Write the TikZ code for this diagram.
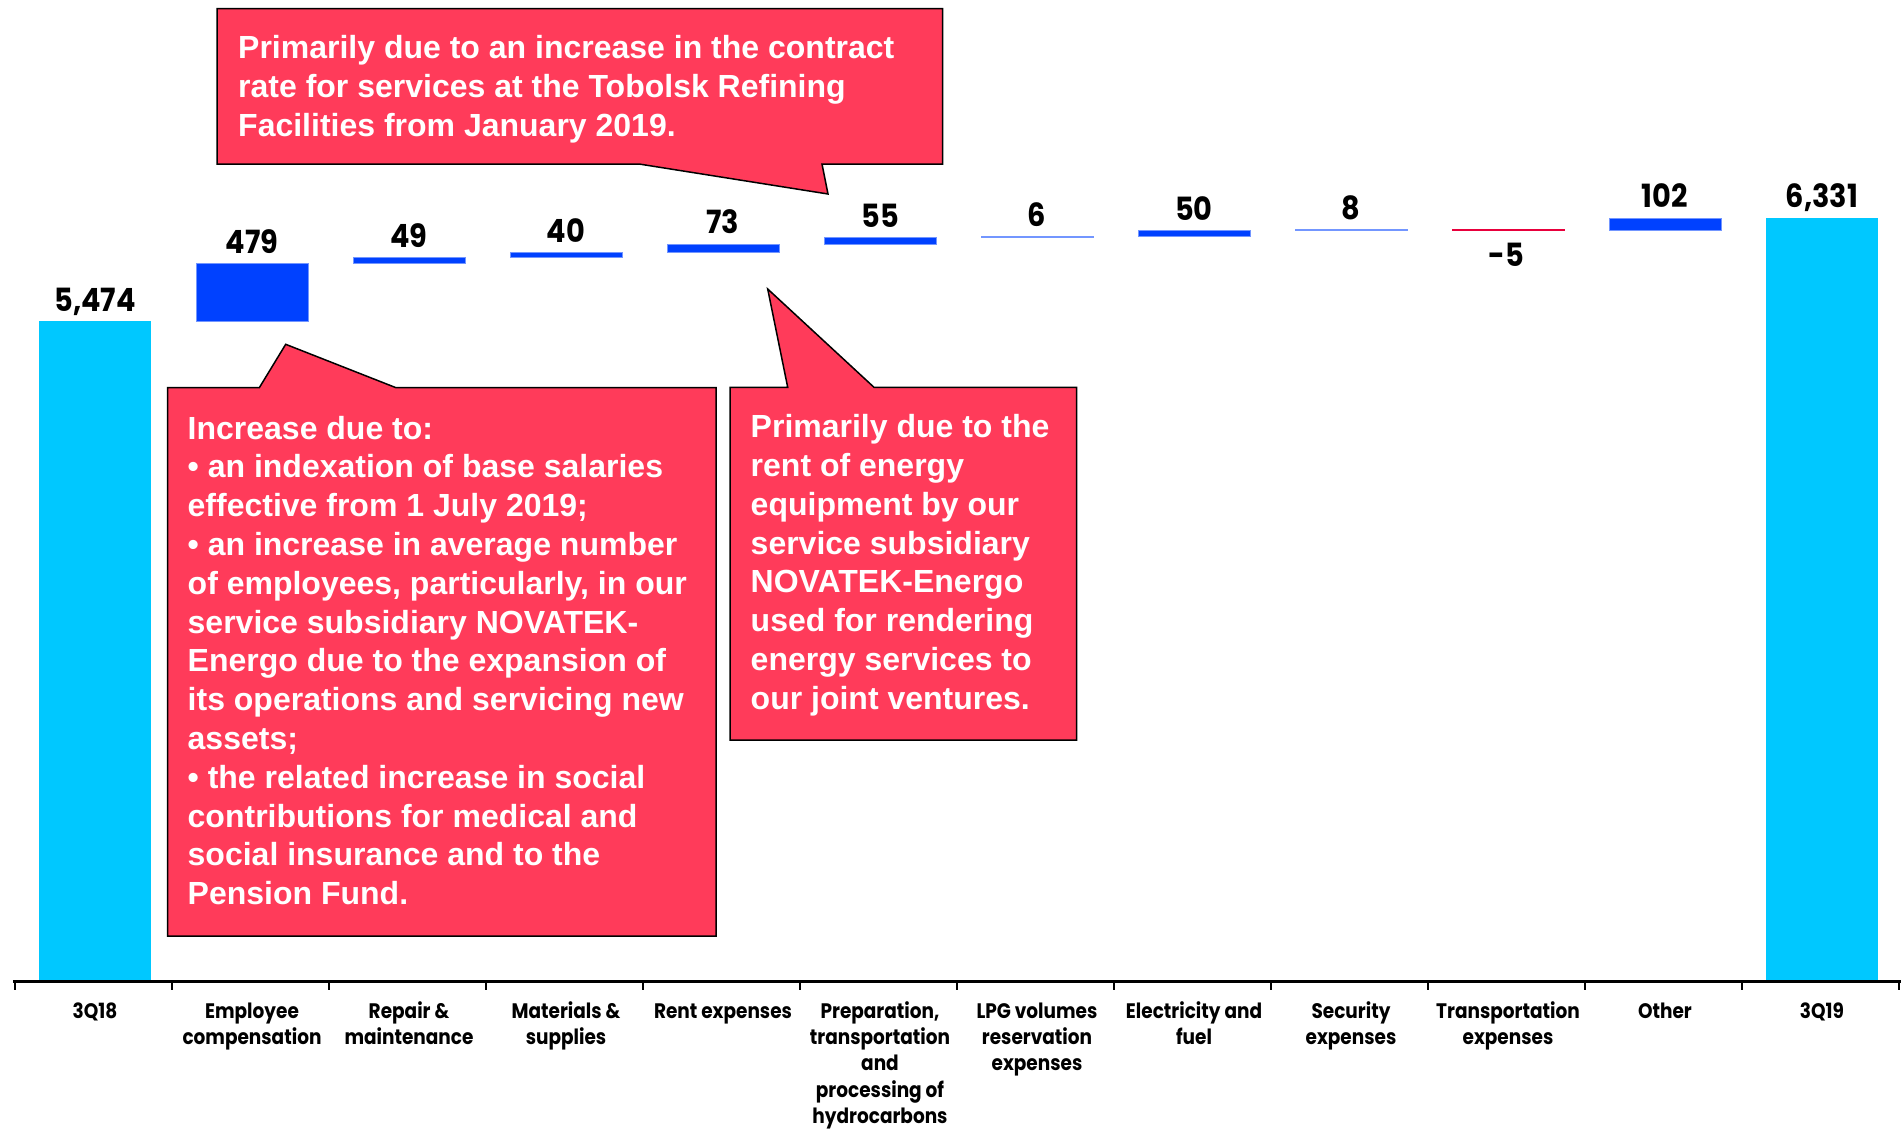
\documentclass[tikz,border=0pt]{standalone}
\usepackage{fontspec}
\setmainfont{Liberation Sans}
\newfontfamily\numfont{Poppins}[FakeStretch=0.9]
\newfontfamily\catfont{Poppins}[FakeStretch=0.88]
\newfontfamily\callfont{Liberation Sans}
\definecolor{cyanbar}{HTML}{00C8FF}
\definecolor{bluebar}{HTML}{0041FF}
\definecolor{redbar}{HTML}{E8003C}
\definecolor{callred}{HTML}{FF3B5A}
\begin{document}
\begin{tikzpicture}[x=1pt,y=-1pt,
  numlbl/.style={font=\fontsize{32}{38}\numfont\bfseries, inner sep=0pt, anchor=base},
  catlbl/.style={font=\fontsize{21}{26.4}\catfont\bfseries, inner sep=0pt, anchor=north, align=center},
  calltxt/.style={font=\fontsize{32}{38.8}\callfont\bfseries, text=white, inner sep=0pt, anchor=north west, align=left},
  callout/.style={fill=callred, draw=black, line width=1.5pt, line join=miter},
  endbar/.style={fill=cyanbar},
  upbar/.style={fill=bluebar, draw=bluebar!55!white, line width=0.6pt},
  downbar/.style={fill=redbar, draw=redbar, line width=1pt},
  axisline/.style={line width=2.7pt, draw=black},
  tickline/.style={line width=2.4pt, draw=black}
]
\useasboundingbox (0,0) rectangle (1901,1128);
\fill[white] (0,0) rectangle (1901,1128);

% bars (center 95+157i, half width 56)
\fill[endbar] (39,980) rectangle (151,321.0);
\filldraw[upbar] (196,321.0) rectangle (308,263.3);
\filldraw[upbar] (353,263.3) rectangle (465,257.4);
\filldraw[upbar] (510,257.4) rectangle (622,252.6);
\filldraw[upbar] (667,252.6) rectangle (779,243.8);
\filldraw[upbar] (824,243.8) rectangle (936,237.2);
\filldraw[upbar] (981,237.2) rectangle (1093,236.5);
\filldraw[upbar] (1138,236.5) rectangle (1250,230.5);
\filldraw[upbar] (1295,230.5) rectangle (1407,229.5);
\filldraw[downbar] (1452,229.5) rectangle (1564,230.1);
\filldraw[upbar] (1609,230.1) rectangle (1721,217.8);
\fill[endbar] (1766,980) rectangle (1878,217.8);

% axis
\draw[axisline] (13,981.4) -- (1901,981.4);
\foreach \i in {0,...,12} {
  \draw[tickline] ({15+157*\i},981) -- ({15+157*\i},989.5);
}

% value labels
\node[numlbl] (n0) at (95,311) {5,474};
\node[numlbl] (n1) at (252,253.3) {479};
\node[numlbl] (n2) at (409,247.4) {49};
\node[numlbl] (n3) at (566,242.6) {40};
\node[numlbl] (n4) at (723,233.8) {73};
\node[numlbl] (n5) at (880,227.2) {55};
\node[numlbl] (n6) at (1037,226.5) {6};
\node[numlbl] (n7) at (1194,220.5) {50};
\node[numlbl] (n8) at (1351,219.5) {8};
\node[numlbl] (n9) at (1506,266) {-5};
\node[numlbl] (n10) at (1665,207.8) {102};
\node[numlbl] (n11) at (1822,207.3) {6,331};

% category labels
\node[catlbl] (c0) at (95,999.5) {\strut 3Q18};
\node[catlbl] (c1) at (252,999.5) {\strut Employee\\compensation};
\node[catlbl] (c2) at (409,999.5) {\strut Repair \&\\maintenance};
\node[catlbl] (c3) at (566,999.5) {\strut Materials \&\\supplies};
\node[catlbl] (c4) at (723,999.5) {\strut Rent expenses};
\node[catlbl] (c5) at (880,999.5) {\strut Preparation,\\transportation\\and\\processing of\\hydrocarbons};
\node[catlbl] (c6) at (1037,999.5) {\strut LPG volumes\\reservation\\expenses};
\node[catlbl] (c7) at (1194,999.5) {\strut Electricity and\\fuel};
\node[catlbl] (c8) at (1351,999.5) {\strut Security\\expenses};
\node[catlbl] (c9) at (1508,999.5) {\strut Transportation\\expenses};
\node[catlbl] (c10) at (1665,999.5) {\strut Other};
\node[catlbl] (c11) at (1822,999.5) {\strut 3Q19};

% callouts
\draw[callout] (217,8.5) -- (942.5,8.5) -- (942.5,164) -- (822,164) -- (828,194) -- (639,164) -- (217,164) -- cycle;
\node[calltxt] (t1) at (238,31.3) {\strut Primarily due to an increase in the contract\\rate for services at the Tobolsk Refining\\Facilities from January 2019.};

\draw[callout] (167.5,387.7) -- (259.3,387.7) -- (285.7,344.3) -- (396,387.7) -- (716,387.7) -- (716,936) -- (167.5,936) -- cycle;
\node[calltxt] (t2) at (187.5,411.8) {\strut Increase due to:\\• an indexation of base salaries\\effective from 1 July 2019;\\• an increase in average number\\of employees, particularly, in our\\service subsidiary NOVATEK-\\Energo due to the expansion of\\its operations and servicing new\\assets;\\• the related increase in social\\contributions for medical and\\social insurance and to the\\Pension Fund.};

\draw[callout] (730,387.3) -- (787.7,387.3) -- (767.7,289) -- (874,387.3) -- (1076.7,387.3) -- (1076.7,740) -- (730,740) -- cycle;
\node[calltxt] (t3) at (750.5,410.3) {\strut Primarily due to the\\rent of energy\\equipment by our\\service subsidiary\\NOVATEK-Energo\\used for rendering\\energy services to\\our joint ventures.};
\end{tikzpicture}
\end{document}
